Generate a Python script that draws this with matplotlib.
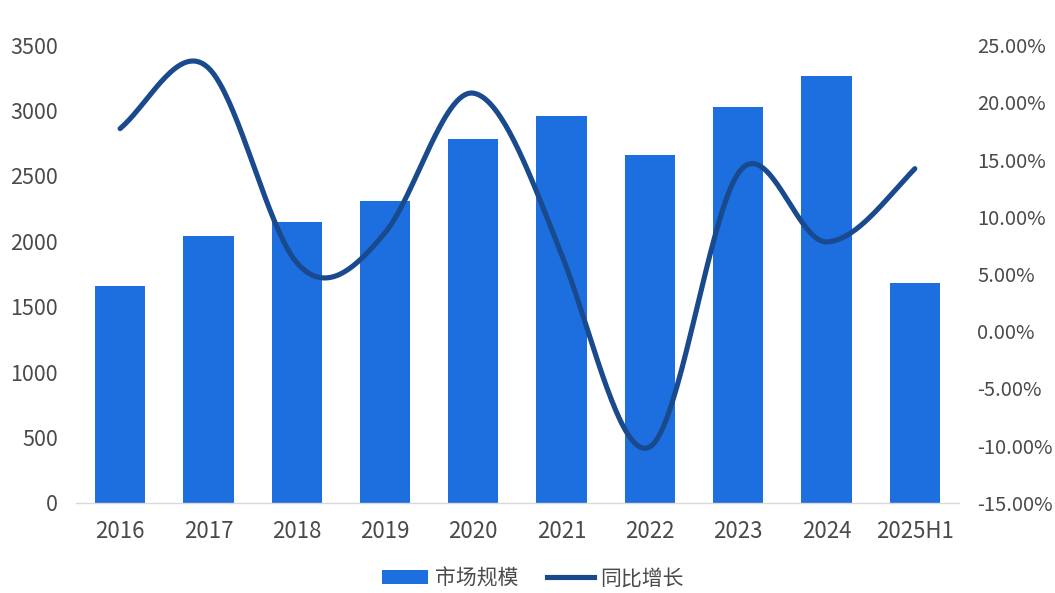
import numpy as np
import matplotlib
matplotlib.use("Agg")
import matplotlib.pyplot as plt
from matplotlib.lines import Line2D
from matplotlib.patches import Patch
from matplotlib.ticker import FixedLocator

plt.rcParams['font.family'] = ['Noto Sans CJK SC', 'DejaVu Sans']

# Market size (bars, left axis) and year-on-year growth in percent (line, right axis)
years = ["2016", "2017", "2018", "2019", "2020", "2021", "2022", "2023", "2024", "2025H1"]
market_size = [1660, 2040, 2150, 2310, 2780, 2960, 2660, 3030, 3260, 1680]
yoy_growth = [17.7, 23.0, 6.0, 8.6, 20.8, 6.7, -10.1, 13.8, 7.8, 14.2]

left_ticks = [0, 500, 1000, 1500, 2000, 2500, 3000, 3500]
right_ticks = [-15, -10, -5, 0, 5, 10, 15, 20, 25]

bar_color = "#1D6FE0"
line_color = "#1A4A8E"
text_color = "#4A4A4A"


def smooth_curve(xs, ys, tension=1.25, steps=40):
    """Cubic Hermite curve through every point, tangents from neighbouring points."""
    xs = np.asarray(xs, float)
    ys = np.asarray(ys, float)
    px = np.concatenate([[2 * xs[0] - xs[1]], xs, [2 * xs[-1] - xs[-2]]])
    py = np.concatenate([[2 * ys[0] - ys[1]], ys, [2 * ys[-1] - ys[-2]]])
    out_x, out_y = [], []
    t = np.linspace(0, 1, steps)
    for i in range(1, len(px) - 2):
        p0, p1, p2, p3 = py[i - 1], py[i], py[i + 1], py[i + 2]
        m1 = tension * (p2 - p0) / 2
        m2 = tension * (p3 - p1) / 2
        h00 = 2 * t**3 - 3 * t**2 + 1
        h10 = t**3 - 2 * t**2 + t
        h01 = -2 * t**3 + 3 * t**2
        h11 = t**3 - t**2
        out_y.append(h00 * p1 + h10 * m1 + h01 * p2 + h11 * m2)
        out_x.append(px[i] + t * (px[i + 1] - px[i]))
    return np.concatenate(out_x), np.concatenate(out_y)


fig = plt.figure(figsize=(10.55, 5.93), dpi=100)
ax = fig.add_axes([0.072, 0.152, 0.837, 0.772])
ax2 = ax.twinx()

x = np.arange(len(years))
ax.bar(x, market_size, width=0.57, color=bar_color, zorder=2)

sx, sy = smooth_curve(x, yoy_growth)
ax2.plot(sx, sy, color=line_color, linewidth=3.7, solid_capstyle="round", zorder=3)

ax.set_xlim(-0.5, len(years) - 0.5)
ax.set_ylim(0, 3500)
ax2.set_ylim(-15, 25)

ax.yaxis.set_major_locator(FixedLocator(left_ticks))
ax.set_yticklabels([str(v) for v in left_ticks])
ax2.yaxis.set_major_locator(FixedLocator(right_ticks))
ax2.set_yticklabels([f"{v:.2f}%" for v in right_ticks])
ax.set_xticks(x)
ax.set_xticklabels(years)

for a in (ax, ax2):
    for s in ("top", "left", "right", "bottom"):
        a.spines[s].set_visible(False)
    a.tick_params(length=0, labelcolor=text_color)
ax.spines["bottom"].set_visible(True)
ax.spines["bottom"].set_color("#D9D9D9")
ax.spines["bottom"].set_linewidth(1.0)
ax.tick_params(axis="y", pad=13, labelsize=15.5)
ax.tick_params(axis="x", pad=12, labelsize=16)
ax2.tick_params(axis="y", pad=13, labelsize=14.5)

handles = [
    Patch(facecolor=bar_color, edgecolor="none", label="市场规模"),
    Line2D([0], [0], color=line_color, linewidth=3.7, label="同比增长"),
]
fig.legend(handles=handles, loc="center", bbox_to_anchor=(0.505, 0.025), ncol=2,
           frameon=False, prop={"family": ["Noto Sans CJK SC"], "size": 15},
           labelcolor=text_color, handlelength=2.25, handletextpad=0.3,
           columnspacing=1.4)

fig.savefig("out.png", dpi=100, facecolor="white")
